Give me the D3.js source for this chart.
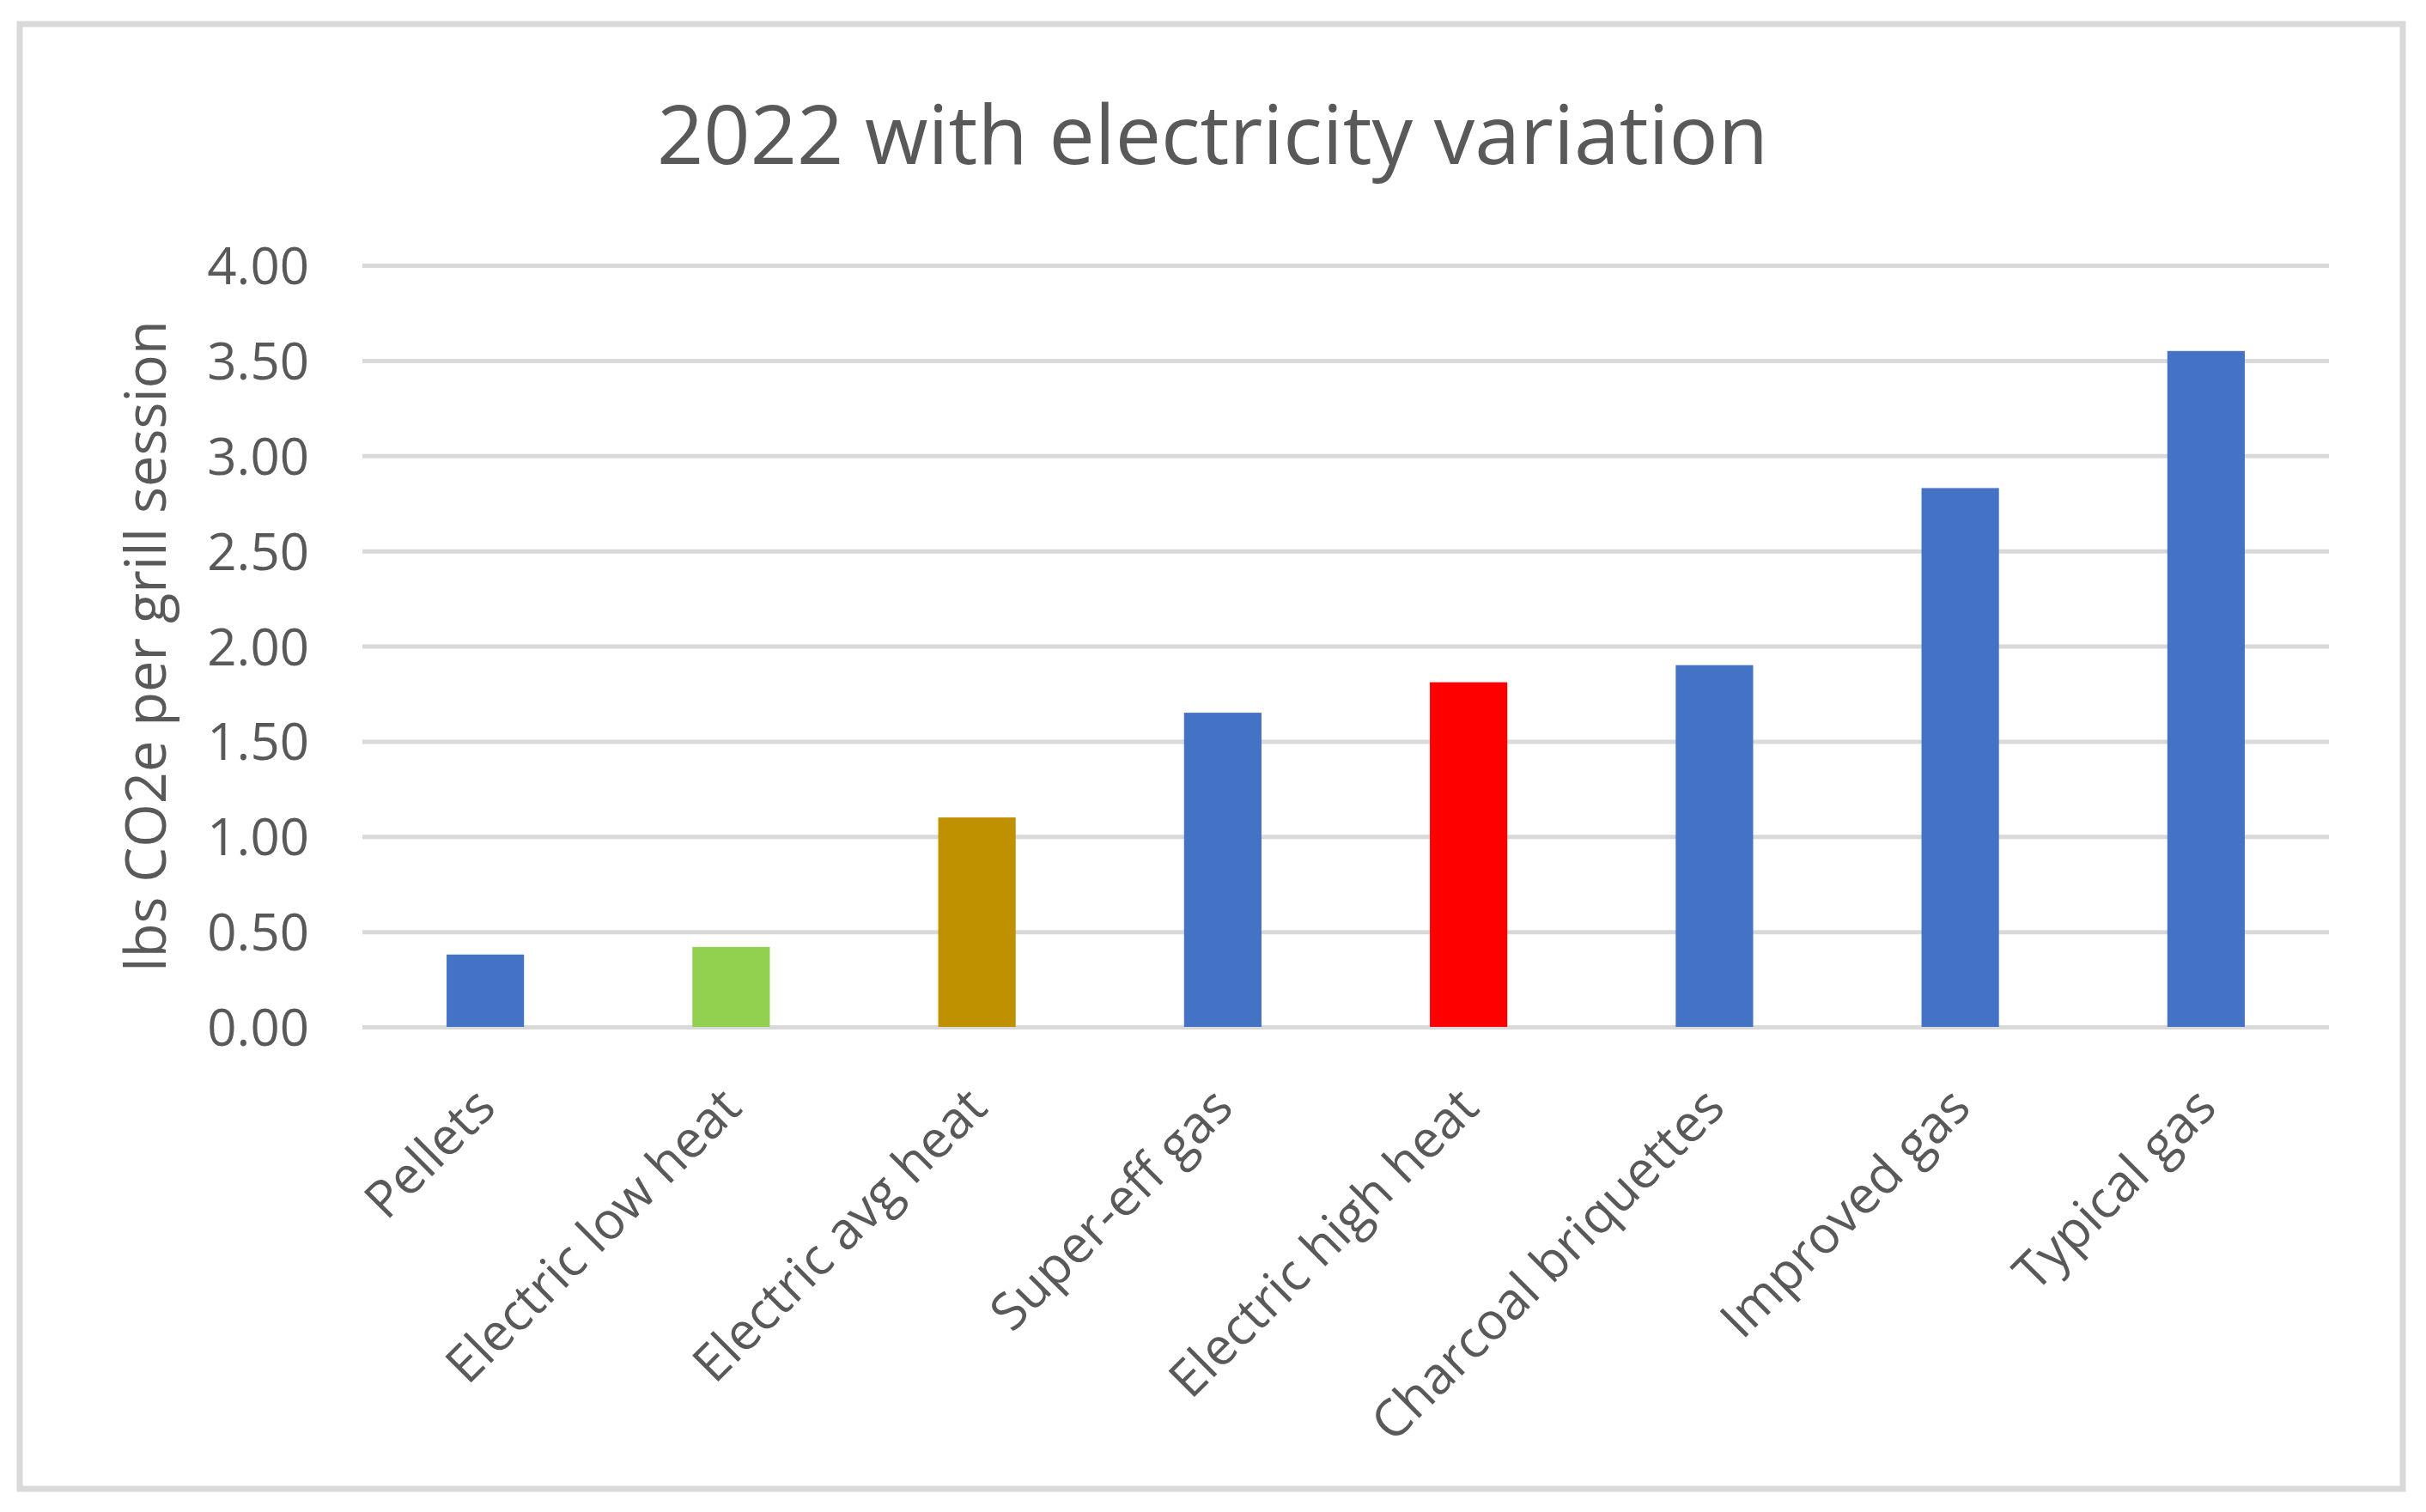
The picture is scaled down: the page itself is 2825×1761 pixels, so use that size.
<!DOCTYPE html>
<html>
<head>
<meta charset="utf-8">
<script src="https://cdn.jsdelivr.net/npm/d3@7"></script>
<style>
  html, body { margin: 0; padding: 0; background: #ffffff; }
  svg { display: block; }
  text { font-family: "Open Sans", "Noto Sans", sans-serif; fill: #595959; }
</style>
</head>
<body>
<script>
const title = "2022 with electricity variation";
const yAxisTitle = "lbs CO2e per grill session";
const categories = ["Pellets", "Electric low heat", "Electric avg heat", "Super-eff gas",
                    "Electric high heat", "Charcoal briquettes", "Improved gas", "Typical gas"];
const values = [0.38, 0.42, 1.10, 1.65, 1.81, 1.90, 2.83, 3.55];
const barColors = ["#4472C4", "#92D050", "#BF9000", "#4472C4",
                   "#FF0000", "#4472C4", "#4472C4", "#4472C4"];
const yTicks = [0, 0.5, 1.0, 1.5, 2.0, 2.5, 3.0, 3.5, 4.0];

const W = 2825, H = 1761;
const plot = { left: 422, right: 2712, top: 309, bottom: 1196 };

const svg = d3.select("body").append("svg")
  .attr("width", W).attr("height", H);

svg.append("rect").attr("width", W).attr("height", H).attr("fill", "#ffffff");

// chart border
svg.append("rect")
  .attr("x", 23).attr("y", 28)
  .attr("width", 2798 - 23).attr("height", 1734 - 28)
  .attr("fill", "none").attr("stroke", "#D9D9D9").attr("stroke-width", 7);

const x = d3.scaleBand()
  .domain(categories)
  .range([plot.left, plot.right])
  .paddingInner(0.685)
  .paddingOuter(0.685 / 2);

const y = d3.scaleLinear().domain([0, 4]).range([plot.bottom, plot.top]);

// y axis with gridlines
const yAxis = svg.append("g")
  .attr("transform", `translate(${plot.left},0)`)
  .call(d3.axisLeft(y).tickValues(yTicks).tickFormat(d3.format(".2f"))
        .tickSize(-(plot.right - plot.left)).tickPadding(62));
yAxis.select(".domain").remove();
yAxis.selectAll(".tick line").attr("stroke", "#D9D9D9").attr("stroke-width", 5);
yAxis.selectAll(".tick text")
  .attr("font-size", 60)
  .attr("dy", "0.36em")
  .style("font-family", "'Open Sans', 'Noto Sans', sans-serif")
  .attr("fill", "#595959");

// bars
svg.append("g").selectAll("rect")
  .data(categories)
  .join("rect")
  .attr("x", d => x(d))
  .attr("width", x.bandwidth())
  .attr("y", (d, i) => y(values[i]))
  .attr("height", (d, i) => y(0) - y(values[i]))
  .attr("fill", (d, i) => barColors[i]);

// x axis labels
const xAxis = svg.append("g")
  .attr("transform", `translate(0,${plot.bottom})`)
  .call(d3.axisBottom(x).tickSize(0).tickPadding(0));
xAxis.select(".domain").remove();
xAxis.selectAll(".tick text")
  .attr("y", 0)
  .attr("dy", "0.35em")
  .attr("text-anchor", "end")
  .attr("transform", "translate(0,82) rotate(-45)")
  .attr("font-size", 60)
  .style("font-family", "'Open Sans', 'Noto Sans', sans-serif")
  .attr("fill", "#595959");

// title
svg.append("text")
  .attr("x", 1412).attr("y", 191)
  .attr("text-anchor", "middle")
  .attr("font-size", 95)
  .text(title);

// y axis title
svg.append("text")
  .attr("transform", `translate(193,${(plot.top + plot.bottom) / 2}) rotate(-90)`)
  .attr("text-anchor", "middle")
  .attr("font-size", 65)
  .text(yAxisTitle);
</script>
</body>
</html>
